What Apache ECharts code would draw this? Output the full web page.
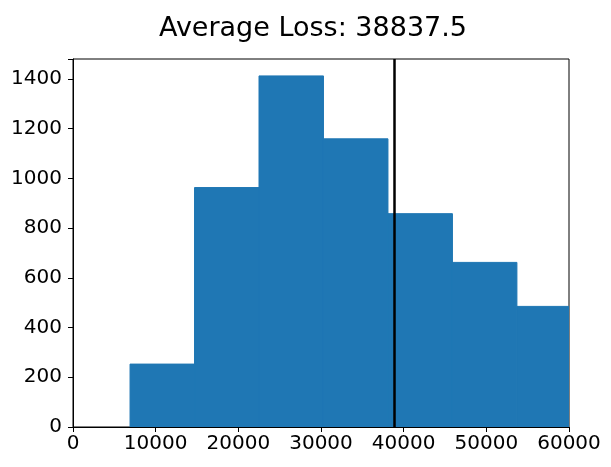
<!DOCTYPE html>
<html>
<head>
<meta charset="utf-8">
<script src="https://cdn.jsdelivr.net/npm/echarts@6/dist/echarts.min.js"></script>
<style>
  html, body { margin: 0; padding: 0; background: #fff; }
  #chart { width: 611px; height: 467px; }
</style>
</head>
<body>
<div id="chart"></div>
<script>
// histogram bins (edges) and counts
const binEdges = [6900, 14700, 22500, 30300, 38100, 45900, 53700, 61500];
const counts = [253, 963, 1412, 1159, 858, 662, 485];
const averageLoss = 38837.5;
const xTicks = [0, 10000, 20000, 30000, 40000, 50000, 60000];
const yTicks = [0, 200, 400, 600, 800, 1000, 1200, 1400];

const bins = counts.map((c, i) => [binEdges[i], binEdges[i + 1], c]);

const chart = echarts.init(document.getElementById('chart'));
const font = 'DejaVu Sans';

const option = {
  animation: false,
  title: {
    text: 'Average Loss: ' + averageLoss,
    left: 154,
    top: 10,
    textStyle: { fontFamily: font, fontSize: 27, fontWeight: 'normal', color: '#000' }
  },
  grid: {
    left: 73, right: 42, top: 59, bottom: 40,
    show: true, borderColor: '#000', borderWidth: 1, backgroundColor: 'transparent'
  },
  xAxis: {
    type: 'value',
    min: xTicks[0], max: xTicks[xTicks.length - 1], interval: 10000,
    splitLine: { show: false },
    axisLine: { show: true, lineStyle: { color: '#000', width: 1 } },
    axisTick: { show: true, inside: false, length: 5, lineStyle: { color: '#000' } },
    axisLabel: {
      fontFamily: font, fontSize: 20, color: '#000', margin: 7,
      showMinLabel: true, showMaxLabel: true,
      formatter: v => String(v)
    }
  },
  yAxis: {
    type: 'value',
    min: 0, max: 1480, interval: 200,
    splitLine: { show: false },
    axisLine: { show: true, lineStyle: { color: '#000', width: 1 } },
    axisTick: { show: true, inside: false, length: 5, lineStyle: { color: '#000' } },
    axisLabel: {
      fontFamily: font, fontSize: 20, color: '#000', margin: 11,
      formatter: v => (yTicks.indexOf(v) >= 0 ? String(v) : '')
    }
  },
  series: [
    {
      type: 'custom',
      clip: true,
      data: bins,
      renderItem: function (params, api) {
        const p0 = api.coord([api.value(0), api.value(2)]);
        const p1 = api.coord([api.value(1), 0]);
        return {
          type: 'rect',
          shape: { x: p0[0], y: p0[1], width: p1[0] - p0[0], height: p1[1] - p0[1] },
          style: { fill: '#1f77b4', stroke: '#1f77b4', lineWidth: 1 }
        };
      },
      encode: { x: [0, 1], y: 2 },
      markLine: {
        silent: true,
        symbol: 'none',
        label: { show: false },
        lineStyle: { color: '#000', width: 2.5, type: 'solid' },
        data: [{ xAxis: averageLoss }]
      }
    }
  ]
};

chart.setOption(option);
</script>
</body>
</html>
